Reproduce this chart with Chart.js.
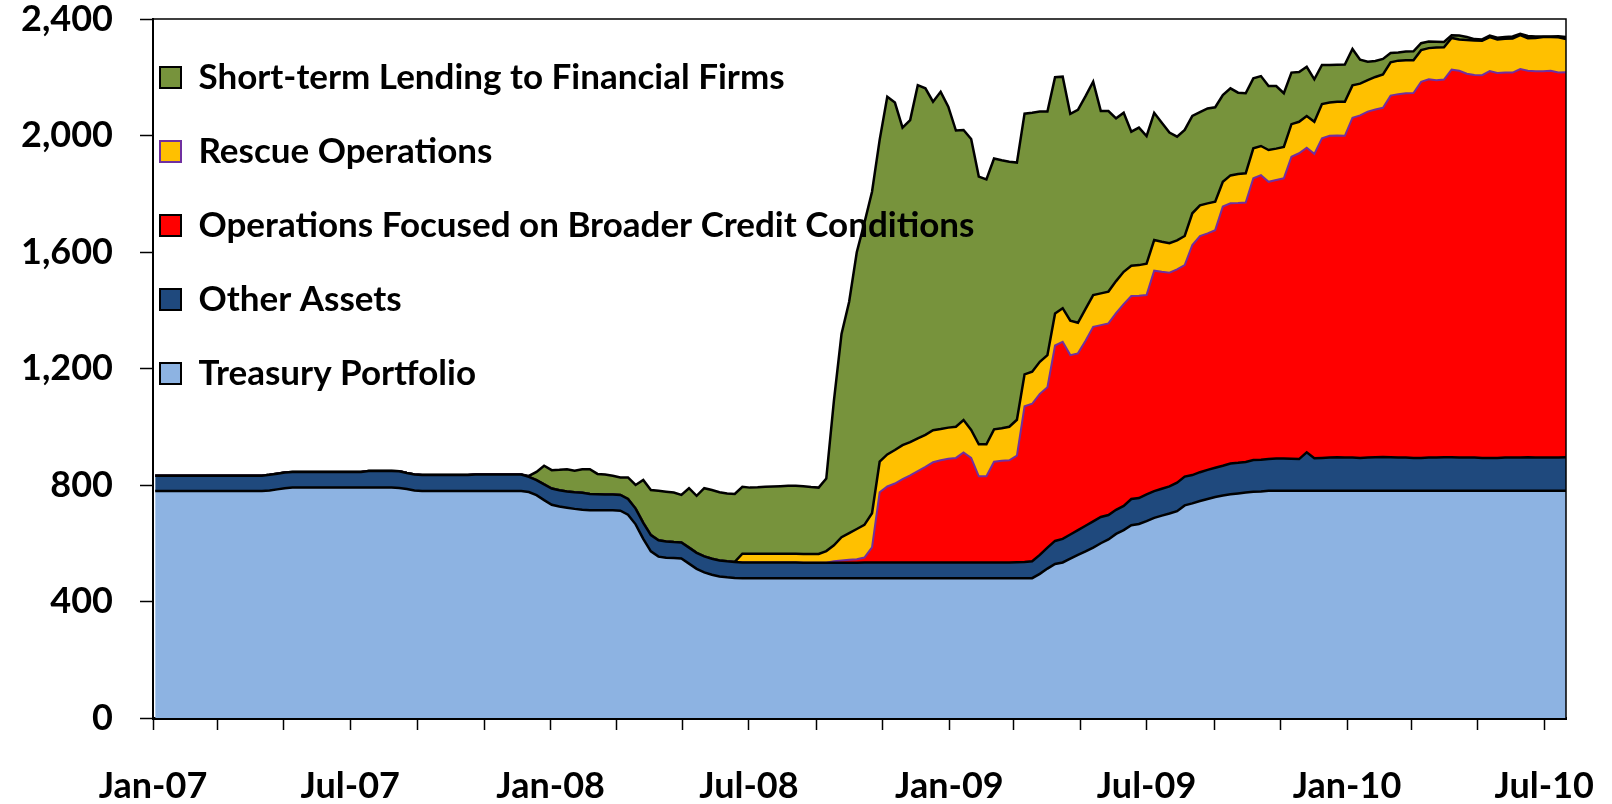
<!DOCTYPE html>
<html>
<head>
<meta charset="utf-8">
<title>Federal Reserve assets</title>
<script src="https://cdn.jsdelivr.net/npm/chart.js@4.4.1/dist/chart.umd.min.js"></script>
<style>
  html, body { margin: 0; padding: 0; background: #fff; }
  #wrap { width: 1612px; height: 804px; position: relative; }
</style>
</head>
<body>
<div id="wrap"><canvas id="grafico"></canvas></div>
<script>
// weekly values, first week = Wed 3 Jan 2007, last = Wed 21 Jul 2010 (billions of $)
const firstDay = 2   // days after 1 Jan 2007
const lastDay = 1297

const xLabels = ["Jan-07", "Jul-07", "Jan-08", "Jul-08", "Jan-09", "Jul-09", "Jan-10", "Jul-10"]

const treasury = [
  779, 779, 779, 779, 779, 779, 779, 779, 779, 779, 779, 779, 779, 779, 779,
  781, 785, 789,
  791, 791, 791, 791, 791, 791, 791, 791, 791, 791, 791, 791, 791, 791,
  790, 786, 781,
  779, 779, 779, 779, 779, 779, 779, 779, 779, 779, 779, 779, 779, 779,
  776, 765, 748, 732, 726, 722, 718, 715, 713, 713, 713, 713, 712, 698,
  665, 615, 572, 554, 550, 549, 548, 530, 512, 500, 492, 486, 483, 481,
  480, 480, 480, 480, 480, 480, 480, 480, 480, 480, 480, 480, 480, 480,
  480, 480, 480, 480, 480, 480, 480, 480, 480, 480, 480, 480, 480, 480,
  480, 480, 480, 480, 480, 480, 480, 480, 480, 480,
  480, 495, 513, 529, 534, 547, 560, 572, 585, 600, 613, 632, 645, 662,
  666, 676, 687, 695, 702, 710, 730, 737, 745, 752, 759, 764, 768, 771,
  774, 777, 778,
  780, 780, 780, 780, 780, 780, 780, 780, 780, 780, 780, 780, 780, 780,
  780, 780, 780, 780, 780, 780, 780, 780, 780, 780, 780, 780, 780, 780,
  780, 780, 780, 780, 780, 780, 780, 780, 780, 780, 780, 780
]

const otherAssets = [
  53, 53, 53, 53, 53, 53, 53, 53, 53, 53, 53, 53, 53, 53, 53,
  54, 54, 54, 54, 54, 54, 54, 54, 54, 54, 54, 54, 54,
  57, 57, 57, 57, 57,
  55, 55, 55, 55, 55, 55, 55, 55, 55,
  57, 57, 57, 57, 57, 57, 57,
  52, 52, 54, 56, 56, 56, 57, 58, 56, 55, 54, 54, 54, 54,
  54, 55, 56, 56, 56, 55, 55, 55, 55, 55, 55, 55, 55, 55,
  54, 54, 54, 54, 54, 54, 54, 54, 53, 53, 53, 53, 53, 53, 53, 53, 54, 54, 54,
  54, 54, 54, 54, 54, 54, 54, 54, 54, 54, 54, 54, 54, 54, 54, 54, 54, 55, 56,
  58, 65, 72, 79, 81, 83, 85, 88, 90, 90, 84, 83, 83, 90, 89, 92, 92, 92, 93, 98,
  99, 97, 99, 100, 100, 102, 106, 105, 105, 109, 109, 109, 111, 111, 110, 109, 132, 112, 113,
  114, 115, 114, 114, 113, 114, 115, 116, 115, 114, 114, 113, 113, 114, 114, 115, 115,
  114, 114, 114, 113, 113, 113, 114, 114, 114, 115, 114, 114, 114, 114, 115
]

const broaderCredit = [
  0, 0, 0, 0, 0, 0, 0, 0, 0, 0, 0, 0, 0, 0, 0, 0, 0, 0, 0, 0, 0, 0,
  0, 0, 0, 0, 0, 0, 0, 0, 0, 0, 0, 0, 0, 0, 0, 0, 0, 0, 0, 0, 0, 0,
  0, 0, 0, 0, 0, 0, 0, 0, 0, 0, 0, 0, 0, 0, 0, 0, 0, 0, 0, 0, 0, 0,
  0, 0, 0, 0, 0, 0, 0, 0, 0, 0, 0, 0, 0, 0, 0, 0, 0, 0, 0, 0, 0, 0, 0,
  5, 8, 10, 12, 17, 52, 241, 261, 271, 286,
  299, 314, 328, 344, 351, 356, 359, 378, 359, 296,
  296, 346, 349, 351, 366, 534, 541, 553, 551, 671,
  677, 616, 607, 635, 668, 659, 658, 675, 693, 697,
  695, 684, 757, 745, 734, 732, 726, 790, 811, 812,
  816, 890, 893, 892, 891, 967, 977, 952, 956, 962,
  1037, 1050, 1046, 1045, 1097, 1105, 1105, 1105, 1167, 1176,
  1188, 1194, 1199, 1242, 1248, 1251, 1253, 1291, 1299, 1296,
  1297, 1331, 1328, 1318, 1314, 1314, 1328, 1322, 1322, 1322,
  1334, 1327, 1327, 1327, 1328, 1322, 1322
]

const rescue = [
  0, 0, 0, 0, 0, 0, 0, 0, 0, 0, 0, 0, 0, 0, 0, 0, 0, 0, 0, 0, 0, 0, 0, 0, 0,
  0, 0, 0, 0, 0, 0, 0, 0, 0, 0, 0, 0, 0, 0, 0, 0, 0, 0, 0, 0, 0, 0, 0, 0, 0,
  0, 0, 0, 0, 0, 0, 0, 0, 0, 0, 0, 0, 0, 0, 0, 0, 0, 0, 0, 0, 0, 0, 0, 0, 0, 0, 0,
  30, 30, 30, 30, 30, 30, 30, 30, 30, 30, 30,
  40,
  55, 80, 92, 104, 112, 117, 105, 110, 115, 117,
  114, 112, 110, 110, 107, 107, 107, 111, 96, 110,
  110, 111, 112, 115, 123, 110, 110, 110, 110, 110,
  115, 118, 105, 110, 109, 109, 109, 110, 111, 104,
  105, 108, 105, 103, 101, 100, 100, 109, 105, 103,
  98, 85, 96, 100, 100, 103, 100, 109, 108, 108,
  112, 108, 109, 110, 118, 114, 116, 117, 111, 109,
  108, 112, 115, 114, 115, 113, 112, 109, 107, 112,
  111, 109, 108, 116, 118, 118, 117, 115, 116, 117,
  117, 112, 114, 117, 116, 121, 114
]

const shortTerm = [
  0, 0, 0, 0, 0, 0, 0, 0, 0, 0, 0, 0, 0, 0, 0, 0, 0, 0, 0, 0, 0, 0, 0, 0, 0,
  0, 0, 0, 0, 0, 0, 0, 0, 0, 0, 0, 0, 0, 0, 0, 0, 0, 0, 0, 0, 0, 0, 0, 0,
  3, 28, 64, 63, 70, 76, 74, 81, 85, 70,
  69, 65, 60, 74, 81, 147, 155, 170, 171, 170,
  163, 204, 196, 234, 236, 234, 233, 233, 230, 227,
  228, 230, 231, 232, 233, 233, 233, 230, 228, 249,
  496, 698, 794, 950, 1037, 1104, 1105, 1228, 1193, 1090,
  1106, 1213, 1190, 1128, 1158, 1102, 1017, 996, 999, 919,
  909, 930, 920, 910, 883, 895, 889, 859, 836, 811,
  795, 710, 731, 730, 733, 626, 620, 559, 546, 460,
  472, 438, 437, 409, 380, 356, 364, 334, 320, 326,
  324, 298, 299, 279, 275, 240, 240, 220, 215, 184,
  177, 171, 169, 146, 134, 129, 127, 128, 125, 82,
  63, 55, 53, 32, 28, 30, 31, 24, 23, 20,
  18, 9, 13, 10, 5, 5, 5, 6, 6, 7,
  4, 8, 5, 2, 2, 4, 7
]

const weekDays = treasury.map((_, i) => firstDay + 7 * i)

// a tick mark every 2 months, labels on January and July
const ticksX = []
for (let m = 0; m <= 42; m += 2) {
    ticksX.push({
        value: (Date.UTC(2007, m, 1) - Date.UTC(2007, 0, 1)) / 864e5,
        label: m % 6 === 0 ? xLabels[m / 6] : ""
    })
}

const fonte = { family: "Lato", size: 36, weight: "bold" }

const legendInside = {
    id: "legendInside",
    beforeLayout(chart) {
        const lg = chart.legend
        lg._layers = () => [{ z: 1, draw: () => lg.draw() }]
    },
    afterLayout(chart) {
        const lg = chart.legend
        const a = chart.chartArea
        const pad = lg.options.labels.padding
        lg.left = a.left + 7 - pad
        lg.top = a.top + 41 - pad
        lg.right = chart.width
        lg.bottom = chart.height
    }
}

const frame = {
    id: "frame",
    afterDraw(chart) {
        const { ctx, chartArea: a } = chart
        ctx.save()
        ctx.strokeStyle = "#000"
        ctx.lineWidth = 1.5
        ctx.beginPath()
        ctx.moveTo(a.left, a.top)
        ctx.lineTo(a.right, a.top)
        ctx.lineTo(a.right, a.bottom)
        ctx.stroke()
        ctx.restore()
    }
}

const legendEdge = {
    "Rescue Operations": "#7030A0",
    "Operations Focused on Broader Credit Conditions": "#000000"
}

new Chart(document.getElementById("grafico"), {
    type: "line",
    data: {
        labels: weekDays,
        datasets: [
            { label: "Treasury Portfolio", data: treasury, backgroundColor: "#8DB3E2", borderColor: "#000", borderWidth: 2.5, fill: "origin" },
            { label: "Other Assets", data: otherAssets, backgroundColor: "#1F497D", borderColor: "#000", borderWidth: 2.5, fill: "-1" },
            { label: "Operations Focused on Broader Credit Conditions", data: broaderCredit, backgroundColor: "#FF0000", borderColor: "#7030A0", borderWidth: 2, fill: "-1" },
            { label: "Rescue Operations", data: rescue, backgroundColor: "#FFC000", borderColor: "#000", borderWidth: 2.5, fill: "-1" },
            { label: "Short-term Lending to Financial Firms", data: shortTerm, backgroundColor: "#77933C", borderColor: "#000", borderWidth: 2.5, fill: "-1" }
        ]
    },
    options: {
        responsive: true,
        maintainAspectRatio: false,
        animation: false,
        elements: { point: { radius: 0 }, line: { tension: 0 } },
        layout: { padding: { top: 19, right: 46, left: 0, bottom: 0 } },
        plugins: {
            tooltip: { enabled: false },
            legend: {
                position: "chartArea",
                align: "start",
                reverse: true,
                labels: {
                    color: "#000",
                    font: { family: "Lato", size: 35, weight: "bold" },
                    boxWidth: 21,
                    boxHeight: 21,
                    padding: 39,
                    generateLabels(chart) {
                        const items = Chart.defaults.plugins.legend.labels.generateLabels(chart)
                        items.forEach(it => {
                            if (legendEdge[it.text]) it.strokeStyle = legendEdge[it.text]
                            it.lineWidth = 2
                        })
                        return items
                    }
                }
            }
        },
        scales: {
            x: {
                type: "linear",
                min: 0,
                max: lastDay,
                z: 1,
                afterBuildTicks: s => { s.ticks = ticksX.map(t => ({ value: t.value })) },
                afterFit: s => {
                    s.height = 86
                    s.paddingLeft = 0
                    s.paddingRight = 0
                },
                border: { color: "#000", width: 3 },
                grid: { drawOnChartArea: false, tickLength: 12, tickWidth: 1.5, tickColor: "#000" },
                ticks: {
                    autoSkip: false,
                    maxRotation: 0,
                    padding: 35,
                    color: "#000",
                    font: fonte,
                    callback: v => (ticksX.find(t => t.value === v) || {}).label || ""
                }
            },
            y: {
                stacked: true,
                min: 0,
                max: 2400,
                z: 1,
                afterFit: s => {
                    s.width = 153
                    s.paddingTop = 0
                    s.paddingBottom = 0
                },
                border: { color: "#000", width: 2 },
                grid: { drawOnChartArea: false, tickLength: 13, tickWidth: 1.5, tickColor: "#000" },
                ticks: {
                    stepSize: 400,
                    padding: 27,
                    color: "#000",
                    font: { family: "Lato", size: 36, weight: "bold", lineHeight: 1 },
                    callback: v => v.toLocaleString("en-US")
                }
            }
        }
    },
    plugins: [legendInside, frame]
})
</script>
</body>
</html>
